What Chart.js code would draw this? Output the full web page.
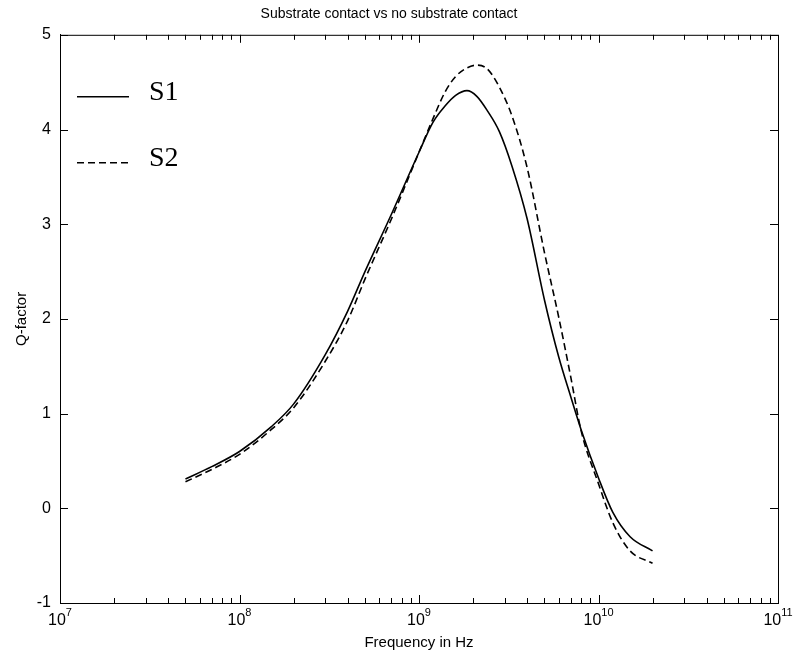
<!DOCTYPE html>
<html>
<head>
<meta charset="utf-8">
<script src="https://cdn.jsdelivr.net/npm/chart.js@4.4.1/dist/chart.umd.min.js"></script>
<style>
  body { margin: 0; background: #fff; overflow: hidden; }
</style>
</head>
<body>
<canvas id="chart" width="795" height="662"></canvas>
<script>
// frequency points (Hz)
var freq = [5e7, 7e7, 1e8, 1.5e8, 2e8, 3e8, 4e8, 5e8, 7e8, 1e9, 1.2e9, 1.4e9, 1.6e9, 1.85e9,
            2.1e9, 2.4e9, 2.8e9, 3.3e9, 4e9, 5e9, 6e9, 7e9, 8e9, 1e10, 1.2e10, 1.5e10, 2e10];
// S1 - with substrate contact (solid)
var s1 = [0.31, 0.44, 0.60, 0.86, 1.10, 1.62, 2.08, 2.50, 3.10, 3.76, 4.08, 4.25, 4.36, 4.41,
          4.35, 4.20, 3.98, 3.61, 3.06, 2.20, 1.60, 1.18, 0.83, 0.32, -0.04, -0.30, -0.45];
// S2 - no substrate contact (dashed)
var s2 = [0.28, 0.41, 0.57, 0.83, 1.06, 1.55, 1.98, 2.42, 3.05, 3.76, 4.12, 4.40, 4.56, 4.65,
          4.68, 4.64, 4.45, 4.14, 3.60, 2.70, 2.02, 1.39, 0.82, 0.26, -0.15, -0.45, -0.58];

var xTicks = [1e7, 1e8, 1e9, 1e10, 1e11];
var xTickExp = ['7', '8', '9', '10', '11'];
var yTicks = [-1, 0, 1, 2, 3, 4, 5];

var sansFont = '"Liberation Sans", Arial, Helvetica, sans-serif';

function toPoints(ys) {
  return freq.map(function (f, i) { return { x: f, y: ys[i] }; });
}

// matlab style box with inward ticks on all four sides, plus 10^n labels
var boxTicks = {
  id: 'boxTicks',
  afterDatasetsDraw: function (chart) {
    var ctx = chart.ctx, a = chart.chartArea;
    var xs = chart.scales.x, ys = chart.scales.y;
    ctx.save();
    ctx.strokeStyle = '#000';
    ctx.lineWidth = 1;
    ctx.strokeRect(a.left + 0.5, a.top + 0.5, a.right - a.left, a.bottom - a.top);
    ctx.beginPath();
    for (var d = 7; d <= 10; d++) {
      for (var m = 1; m <= 9; m++) {
        var px = Math.round(xs.getPixelForValue(m * Math.pow(10, d))) + 0.5;
        var len = m == 1 ? 8 : 5;
        ctx.moveTo(px, a.bottom); ctx.lineTo(px, a.bottom - len);
        ctx.moveTo(px, a.top); ctx.lineTo(px, a.top + len);
      }
    }
    yTicks.forEach(function (v) {
      var py = Math.round(ys.getPixelForValue(v)) + 0.5;
      ctx.moveTo(a.left, py); ctx.lineTo(a.left + 8, py);
      ctx.moveTo(a.right, py); ctx.lineTo(a.right - 8, py);
    });
    ctx.stroke();

    // x tick labels with a real superscript
    ctx.fillStyle = '#000';
    ctx.textBaseline = 'alphabetic';
    ctx.textAlign = 'left';
    xTicks.forEach(function (v, i) {
      var px = xs.getPixelForValue(v);
      ctx.font = '16px ' + sansFont;
      var wBase = ctx.measureText('10').width;
      ctx.font = '11px ' + sansFont;
      var wExp = ctx.measureText(xTickExp[i]).width;
      var x0 = px - (wBase + wExp) / 2;
      ctx.font = '16px ' + sansFont;
      ctx.fillText('10', x0, a.bottom + 22);
      ctx.font = '11px ' + sansFont;
      ctx.fillText(xTickExp[i], x0 + wBase, a.bottom + 13);
    });
    ctx.restore();
  }
};

// legend sitting inside the axes, top left
var insideLegend = {
  id: 'insideLegend',
  afterDraw: function (chart) {
    var ctx = chart.ctx, a = chart.chartArea;
    chart.data.datasets.forEach(function (ds, i) {
      var y = a.top + 62 + i * 66;
      ctx.save();
      ctx.strokeStyle = ds.borderColor;
      ctx.lineWidth = ds.borderWidth;
      ctx.setLineDash(ds.borderDash || []);
      ctx.beginPath();
      ctx.moveTo(a.left + 17, y);
      ctx.lineTo(a.left + 69, y);
      ctx.stroke();
      ctx.setLineDash([]);
      ctx.fillStyle = '#000';
      ctx.font = '28px "Liberation Serif", "Times New Roman", serif';
      ctx.textBaseline = 'alphabetic';
      ctx.fillText(ds.label, a.left + 89, y + 3);
      ctx.restore();
    });
  }
};

var ctx = document.getElementById('chart').getContext('2d');
var chart = new Chart(ctx, {
  type: 'line',
  data: {
    datasets: [{
      label: 'S1',
      data: toPoints(s1),
      borderColor: '#000',
      borderWidth: 1.6,
      pointRadius: 0,
      fill: false,
      cubicInterpolationMode: 'monotone'
    }, {
      label: 'S2',
      data: toPoints(s2),
      borderColor: '#000',
      borderWidth: 1.6,
      borderDash: [7, 4],
      pointRadius: 0,
      fill: false,
      cubicInterpolationMode: 'monotone'
    }]
  },
  options: {
    responsive: false,
    animation: false,
    layout: { padding: { left: 0, right: 17, top: 0, bottom: 0 } },
    plugins: {
      legend: { display: false },
      tooltip: { enabled: false },
      title: {
        display: true,
        text: 'Substrate contact vs no substrate contact',
        color: '#000',
        font: { family: sansFont, size: 14, weight: 'normal' },
        padding: { top: 6, bottom: 12 }
      }
    },
    scales: {
      x: {
        type: 'logarithmic',
        min: 1e7,
        max: 1e11,
        afterBuildTicks: function (scale) {
          scale.ticks = xTicks.map(function (v) { return { value: v }; });
        },
        afterFit: function (scale) { scale.height = 59; },
        grid: { display: false, drawTicks: false },
        border: { display: true, color: '#000' },
        ticks: { display: false },
        title: {
          display: true,
          text: 'Frequency in Hz',
          color: '#000',
          font: { family: sansFont, size: 15 },
          padding: { top: 0, bottom: 10 }
        }
      },
      y: {
        min: -1,
        max: 5,
        afterFit: function (scale) { scale.width = 60; },
        grid: { display: false, drawTicks: false },
        border: { display: true, color: '#000' },
        ticks: {
          stepSize: 1,
          color: '#000',
          font: { family: sansFont, size: 16 },
          padding: 9
        },
        title: {
          display: true,
          text: 'Q-factor',
          color: '#000',
          font: { family: sansFont, size: 15 },
          padding: { top: 13, bottom: 0 }
        }
      }
    }
  },
  plugins: [boxTicks, insideLegend]
});
</script>
</body>
</html>
